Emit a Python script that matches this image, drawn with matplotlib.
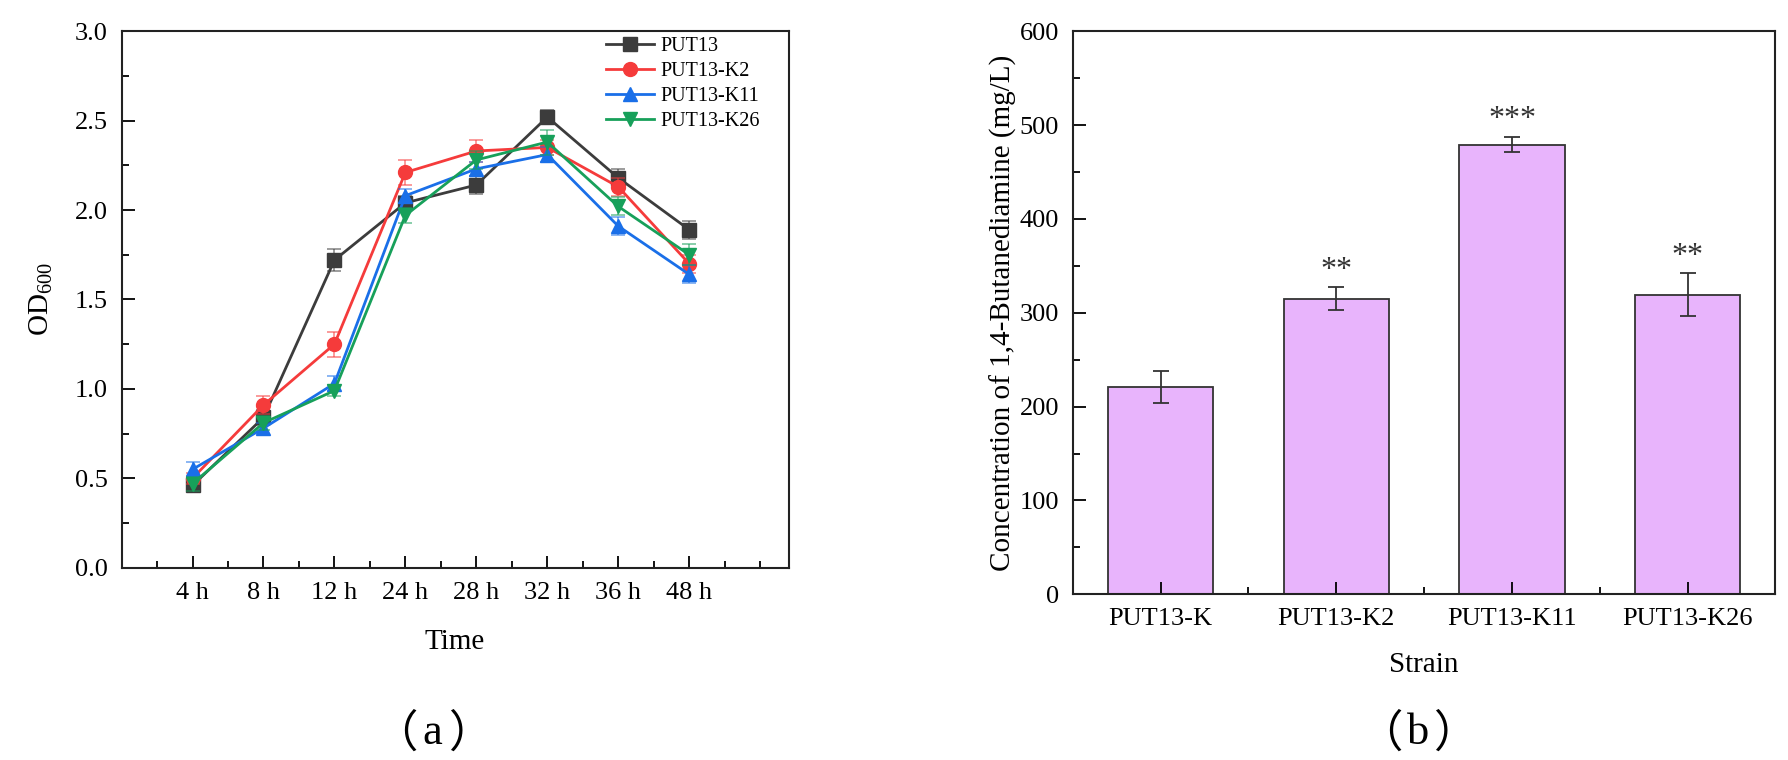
import matplotlib
matplotlib.use("Agg")
import matplotlib.pyplot as plt
from matplotlib.ticker import MultipleLocator, FormatStrFormatter

plt.rcParams['font.family'] = ['Liberation Serif', 'Noto Sans CJK SC', 'DejaVu Sans']
plt.rcParams['mathtext.fontset'] = 'custom'
plt.rcParams['mathtext.rm'] = 'Liberation Serif'

# (a) growth curves
time_labels = ['4 h', '8 h', '12 h', '24 h', '28 h', '32 h', '36 h', '48 h']
series_names = ['PUT13', 'PUT13-K2', 'PUT13-K11', 'PUT13-K26']
od_put13 = [0.46, 0.84, 1.72, 2.04, 2.14, 2.52, 2.18, 1.89]
od_k2 = [0.50, 0.91, 1.25, 2.21, 2.33, 2.35, 2.13, 1.70]
od_k11 = [0.55, 0.78, 1.03, 2.08, 2.23, 2.31, 1.91, 1.64]
od_k26 = [0.47, 0.81, 0.99, 1.97, 2.28, 2.38, 2.02, 1.75]
err_put13 = [0.03, 0.04, 0.06, 0.04, 0.05, 0.04, 0.05, 0.05]
err_k2 = [0.03, 0.05, 0.07, 0.07, 0.06, 0.04, 0.05, 0.05]
err_k11 = [0.04, 0.03, 0.04, 0.04, 0.04, 0.04, 0.05, 0.05]
err_k26 = [0.04, 0.04, 0.03, 0.04, 0.05, 0.07, 0.05, 0.06]

# (b) product titre
strains = ['PUT13-K', 'PUT13-K2', 'PUT13-K11', 'PUT13-K26']
conc = [221, 315, 479, 319]
conc_err = [17, 12, 8, 23]
signif = ['', '**', '***', '**']

colors = ['#3c3c3c', '#f53b3b', '#1a6fe8', '#17a05a']
markers = ['s', 'o', '^', 'v']

fig = plt.figure(figsize=(17.88, 7.6), dpi=100)
ax1 = fig.add_axes([0.068, 0.253, 0.373, 0.706])
ax2 = fig.add_axes([0.600, 0.218, 0.393, 0.741])

x = list(range(1, len(time_labels) + 1))
all_od = [od_put13, od_k2, od_k11, od_k26]
all_err = [err_put13, err_k2, err_k11, err_k26]
for name, ys, es, c, m in zip(series_names, all_od, all_err, colors, markers):
    ax1.errorbar(x, ys, yerr=es, fmt='none', ecolor=c, alpha=0.55,
                 elinewidth=1.3, capsize=5, capthick=1.3)
    ax1.plot(x, ys, color=c, marker=m, markersize=10, linewidth=2, label=name)

ax1.set_xlim(0, 9.4)
ax1.set_ylim(0, 3.0)
ax1.set_xticks(x)
ax1.set_xticklabels(time_labels)
ax1.xaxis.set_minor_locator(MultipleLocator(0.5))
ax1.yaxis.set_major_locator(MultipleLocator(0.5))
ax1.yaxis.set_minor_locator(MultipleLocator(0.25))
ax1.yaxis.set_major_formatter(FormatStrFormatter('%.1f'))
ax1.set_xlabel('Time', fontsize=21, labelpad=18)
ax1.set_ylabel('OD$_{600}$', fontsize=21, labelpad=14)
ax1.legend(loc='upper right', bbox_to_anchor=(0.975, 1.012), frameon=False,
           fontsize=14.5, handlelength=2.4, handletextpad=0.3,
           labelspacing=0.3, borderaxespad=0.2)

ax2.bar(range(1, len(strains) + 1), conc, width=0.6, color='#e8b4fc',
        edgecolor='#333333', linewidth=1.3,
        yerr=conc_err, capsize=6, error_kw=dict(ecolor='#333333', elinewidth=1.3, capthick=1.3))
for i, (v, e, s) in enumerate(zip(conc, conc_err, signif)):
    if s:
        ax2.text(i + 1, v + e + 3, s, ha='center', va='bottom', fontsize=23, color='#333333')
ax2.set_xlim(0.5, 4.5)
ax2.set_ylim(0, 600)
ax2.set_xticks(range(1, len(strains) + 1))
ax2.set_xticklabels(strains)
ax2.xaxis.set_minor_locator(MultipleLocator(0.5))
ax2.yaxis.set_major_locator(MultipleLocator(100))
ax2.yaxis.set_minor_locator(MultipleLocator(50))
ax2.set_xlabel('Strain', fontsize=21, labelpad=16)
ax2.set_ylabel('Concentration of 1,4-Butanediamine (mg/L)', fontsize=21, labelpad=2)

for ax in (ax1, ax2):
    ax.tick_params(which='major', direction='in', length=9, width=1.3, labelsize=19, pad=10)
    ax.tick_params(which='minor', direction='in', length=5, width=1.3)
    ax.tick_params(top=False, right=False, which='both')
    for sp in ax.spines.values():
        sp.set_linewidth(1.5)
        sp.set_color('#222222')

# captions with full-width brackets
for cx, letter in [(0.242, 'a'), (0.793, 'b')]:
    fig.text(cx - 0.021, 0.034, '（', ha='center', va='center', fontsize=32,
             family=['Noto Sans CJK SC'], fontweight='light')
    fig.text(cx, 0.036, letter, ha='center', va='center', fontsize=32)
    fig.text(cx + 0.021, 0.034, '）', ha='center', va='center', fontsize=32,
             family=['Noto Sans CJK SC'], fontweight='light')

fig.savefig('out.png', dpi=100, facecolor='white')
